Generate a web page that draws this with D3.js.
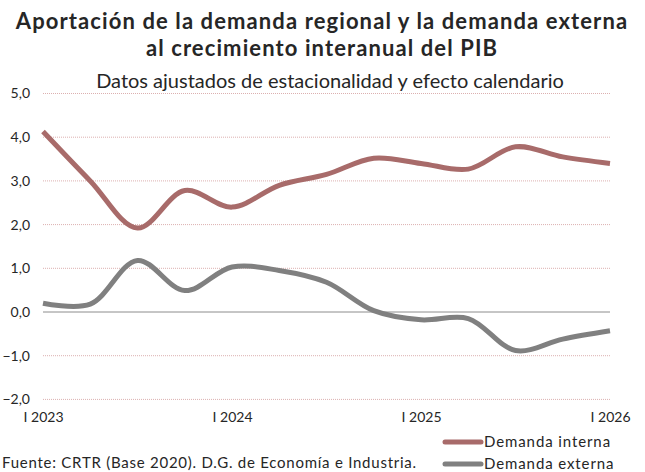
<!DOCTYPE html>
<html>
<head>
<meta charset="utf-8">
<script src="https://cdn.jsdelivr.net/npm/d3@7"></script>
<style>
  body { margin: 0; background: #fff; }
  text { font-family: Lato, "Open Sans", sans-serif; fill: #262626; }
</style>
</head>
<body>
<div class="chart"></div>
<script>
// quarters from I 2023 to I 2026
var quarters = ["I 2023", "II 2023", "III 2023", "IV 2023",
                "I 2024", "II 2024", "III 2024", "IV 2024",
                "I 2025", "II 2025", "III 2025", "IV 2025", "I 2026"];
var demandaInterna = [4.13, 3.0, 1.92, 2.78, 2.4, 2.9, 3.15, 3.52, 3.4, 3.27, 3.78, 3.55, 3.4];
var demandaExterna = [0.2, 0.18, 1.18, 0.49, 1.03, 0.95, 0.68, 0.03, -0.18, -0.15, -0.88, -0.62, -0.43];
var yTicks = [-2, -1, 0, 1, 2, 3, 4, 5];
var xLabels = ["I 2023", "I 2024", "I 2025", "I 2026"];

var svgWidth = 645;
var svgHeight = 472;
var margin = { top: 93.5, right: 35, bottom: 72.6, left: 43 };
var width = svgWidth - margin.left - margin.right;
var height = svgHeight - margin.top - margin.bottom;

var svg = d3.select(".chart")
    .append("svg")
    .attr("width", svgWidth)
    .attr("height", svgHeight);

// titles
svg.append("text")
    .attr("x", 322).attr("y", 29)
    .attr("text-anchor", "middle")
    .style("font-size", "22px").style("font-weight", "bold")
    .style("letter-spacing", "1.1px")
    .text("Aportación de la demanda regional y la demanda externa");
svg.append("text")
    .attr("x", 322).attr("y", 56)
    .attr("text-anchor", "middle")
    .style("font-size", "22px").style("font-weight", "bold")
    .style("letter-spacing", "1.1px")
    .text("al crecimiento interanual del PIB");
svg.append("text")
    .attr("x", 330).attr("y", 88)
    .attr("text-anchor", "middle")
    .style("font-size", "20px")
    .text("Datos ajustados de estacionalidad y efecto calendario");

var chart = svg.append("g")
    .attr("transform", "translate(" + margin.left + "," + margin.top + ")");

var xScale = d3.scalePoint()
    .domain(quarters)
    .range([0, width]);

var yScale = d3.scaleLinear()
    .domain([-2, 5])
    .range([height, 0]);

// gridlines
chart.selectAll(".grid")
    .data(yTicks.filter(function(d) { return d !== 0; }))
    .enter()
    .append("line")
    .attr("class", "grid")
    .attr("x1", 0).attr("x2", width)
    .attr("y1", function(d) { return yScale(d); })
    .attr("y2", function(d) { return yScale(d); })
    .attr("stroke", "#dcb0b0")
    .attr("stroke-width", 1)
    .attr("stroke-dasharray", "1,1");

chart.append("line")
    .attr("x1", 0).attr("x2", width)
    .attr("y1", yScale(0)).attr("y2", yScale(0))
    .attr("stroke", "#8c8c8c")
    .attr("stroke-width", 1);

// y axis labels
var leftAxis = d3.axisLeft(yScale)
    .tickValues(yTicks)
    .tickSize(0)
    .tickPadding(13)
    .tickFormat(function(d) { return d3.format(".1f")(d).replace(".", ","); });

chart.append("g")
    .call(leftAxis)
    .call(function(g) { g.select(".domain").remove(); })
    .selectAll("text")
    .style("font-size", "14px")
    .style("font-family", "Lato, sans-serif")
    .attr("fill", "#262626");

// x axis labels
var bottomAxis = d3.axisBottom(xScale)
    .tickValues(xLabels)
    .tickSize(0)
    .tickPadding(13);

chart.append("g")
    .attr("transform", "translate(0," + height + ")")
    .call(bottomAxis)
    .call(function(g) { g.select(".domain").remove(); })
    .selectAll("text")
    .style("font-size", "14px")
    .style("font-family", "Lato, sans-serif")
    .attr("fill", "#262626");

var line = d3.line()
    .x(function(d, i) { return xScale(quarters[i]); })
    .y(function(d) { return yScale(d); })
    .curve(d3.curveCatmullRom);

var series = [
    { name: "Demanda interna", values: demandaInterna, color: "#a86b6a" },
    { name: "Demanda externa", values: demandaExterna, color: "#808080" }
];

chart.selectAll(".series")
    .data(series)
    .enter()
    .append("path")
    .attr("class", "series")
    .attr("d", function(d) { return line(d.values); })
    .attr("fill", "none")
    .attr("stroke", function(d) { return d.color; })
    .attr("stroke-width", 5)
    .attr("stroke-linejoin", "round");

// legend
var legend = svg.selectAll(".legend")
    .data(series)
    .enter()
    .append("g")
    .attr("class", "legend")
    .attr("transform", function(d, i) { return "translate(443," + (442 + i * 22) + ")"; });

legend.append("line")
    .attr("x1", 2).attr("x2", 38)
    .attr("y1", 0).attr("y2", 0)
    .attr("stroke", function(d) { return d.color; })
    .attr("stroke-width", 5)
    .attr("stroke-linecap", "round");

legend.append("text")
    .attr("x", 41).attr("y", 5)
    .style("font-size", "15px")
    .style("letter-spacing", "0.9px")
    .text(function(d) { return d.name; });

// source
svg.append("text")
    .attr("x", 2).attr("y", 468)
    .style("font-size", "15px")
    .style("letter-spacing", "0.75px")
    .text("Fuente: CRTR (Base 2020). D.G. de Economía e Industria.");
</script>
</body>
</html>
